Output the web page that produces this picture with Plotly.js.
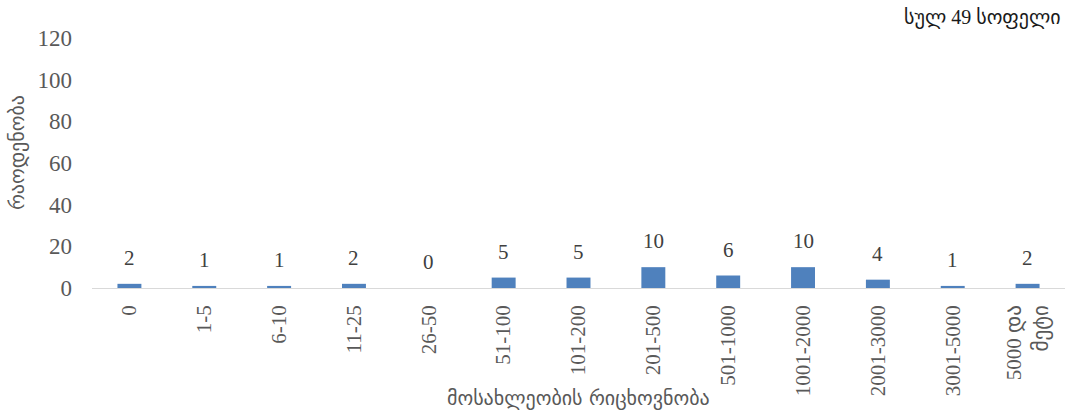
<!DOCTYPE html>
<html><head><meta charset="utf-8">
<script src="https://cdn.plot.ly/plotly-3.0.1.min.js"></script>
<style>html,body{margin:0;padding:0;background:#fff;}#chart{width:1067px;height:414px;}</style>
</head><body><div id="chart"></div>
<script>
const categories = ["0","1-5","6-10","11-25","26-50","51-100","101-200","201-500","501-1000","1001-2000","2001-3000","3001-5000","5000 და<br>მეტი"];
const villageCounts = [2,1,1,2,0,5,5,10,6,10,4,1,2];
const yTicks = [0,20,40,60,80,100,120];
const totalLabel = "სულ 49 სოფელი";
const xTitle = "მოსახლეობის რიცხოვნობა";
const yTitle = "რაოდენობა";

const fontFam = "'Liberation Serif', 'DejaVu Sans', serif";
const geoFam = "'DejaVu Sans', 'Liberation Serif', sans-serif";
const grey = "#595959";

const annotations = categories.map((c, i) => ({
  x: c, y: villageCounts[i], xref: 'x', yref: 'y', text: String(villageCounts[i]),
  showarrow: false, yshift: 26, font: {family: fontFam, size: 21, color: '#404040'}
}));
annotations.push({
  x: 1, y: 1.08, xref: 'paper', yref: 'paper', xanchor: 'right', yanchor: 'middle',
  xshift: -2, text: totalLabel, showarrow: false,
  font: {family: fontFam, size: 20, color: '#1a1a1a'}
});
annotations.push({
  x: 0.5, y: -0.44, xref: 'paper', yref: 'paper', xanchor: 'center', yanchor: 'middle',
  text: xTitle, showarrow: false,
  font: {family: geoFam, size: 20, color: grey}
});
annotations.push({
  x: -0.077, y: 0.54, xref: 'paper', yref: 'paper', xanchor: 'center', yanchor: 'middle',
  text: yTitle, textangle: -90, showarrow: false,
  font: {family: geoFam, size: 20, color: grey}
});

const trace = {
  type: 'bar', x: categories, y: villageCounts,
  marker: {color: '#4f81bd'}, hoverinfo: 'none'
};

const layout = {
  width: 1067, height: 414,
  margin: {l: 92, r: 2, t: 38, b: 126},
  paper_bgcolor: '#fff', plot_bgcolor: '#fff',
  bargap: 0.68,
  showlegend: false,
  font: {family: fontFam, color: grey},
  xaxis: {
    type: 'category', tickangle: -90, showgrid: false, zeroline: false,
    showline: false, ticks: '', ticklabelstandoff: 12,
    tickfont: {family: fontFam, size: 21, color: grey}
  },
  yaxis: {
    range: [0, 120], tickvals: yTicks, showgrid: false,
    zeroline: true, zerolinecolor: '#d9d9d9', zerolinewidth: 1,
    showline: false, ticks: '', ticklabelstandoff: 19,
    tickfont: {family: fontFam, size: 23, color: grey}
  },
  annotations: annotations
};

Plotly.newPlot('chart', [trace], layout, {displayModeBar: false, staticPlot: true});
</script></body></html>
